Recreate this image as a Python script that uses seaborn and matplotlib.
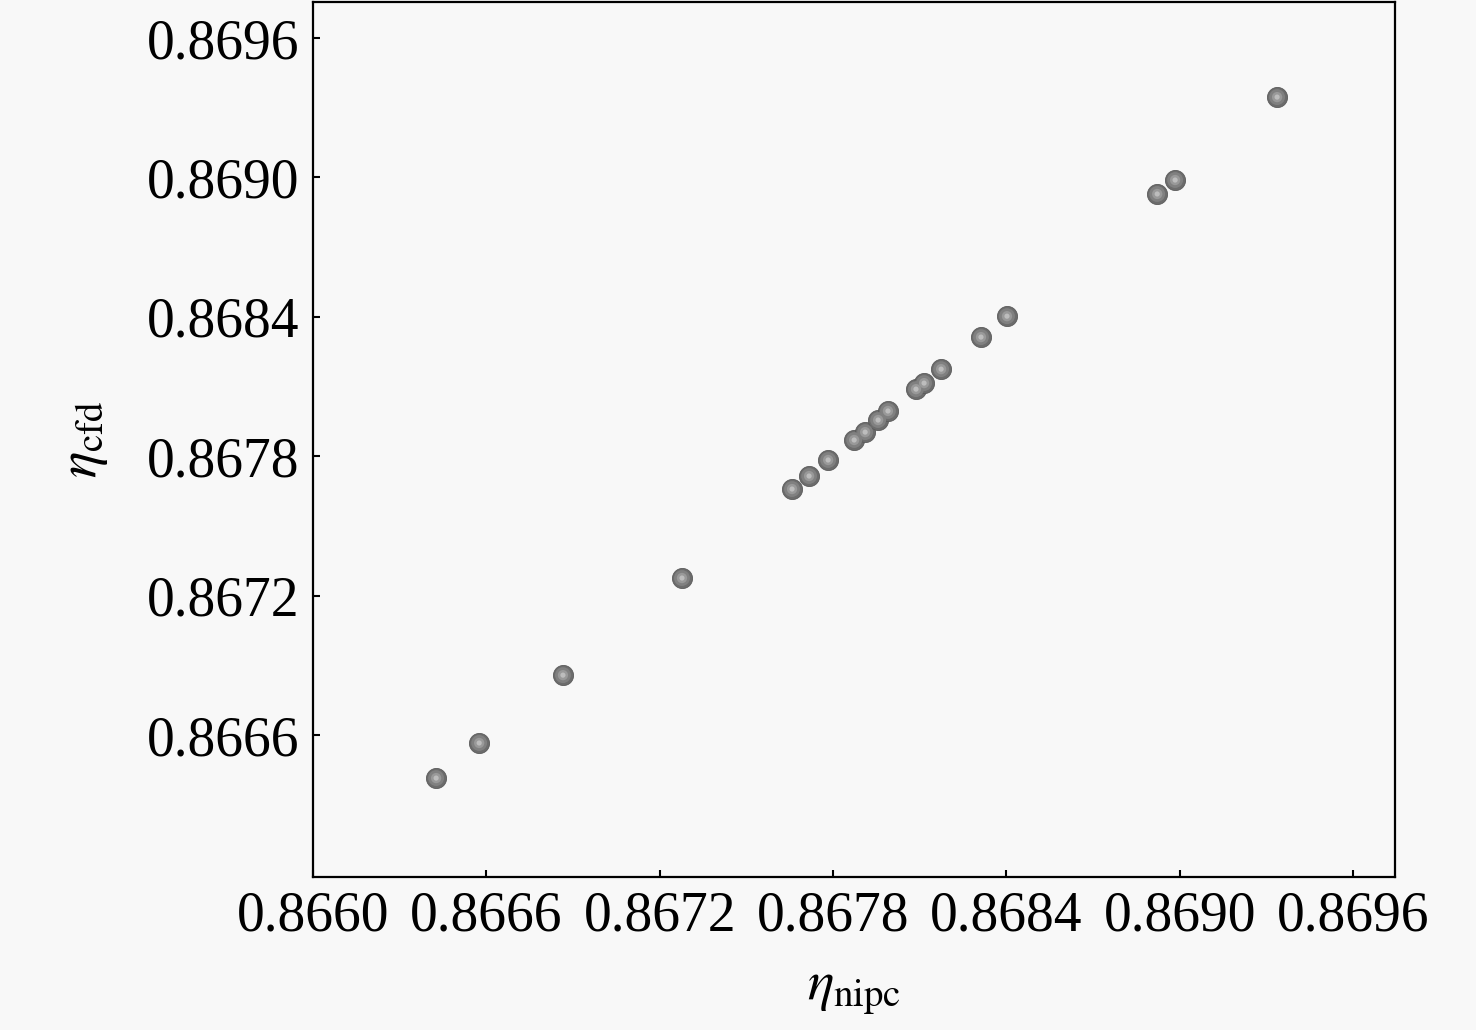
import numpy as np
import pandas as pd
import matplotlib
matplotlib.use("Agg")
import matplotlib.pyplot as plt
import seaborn as sns

# values
eta_nipc = [0.866426, 0.866575, 0.866865, 0.867277, 0.867658, 0.867717, 0.867783,
            0.867873, 0.867911, 0.867956, 0.867990, 0.868087, 0.868115, 0.868174,
            0.868312, 0.868402, 0.868922, 0.868984, 0.869337]
eta_cfd = [0.866415, 0.866566, 0.866858, 0.867276, 0.867659, 0.867715, 0.867784,
           0.867870, 0.867904, 0.867956, 0.867995, 0.868089, 0.868115, 0.868175,
           0.868313, 0.868403, 0.868929, 0.868989, 0.869346]
tick_vals = [0.8660, 0.8666, 0.8672, 0.8678, 0.8684, 0.8690, 0.8696]
ytick_vals = [0.8666, 0.8672, 0.8678, 0.8684, 0.8690, 0.8696]

df = pd.DataFrame({"nipc": eta_nipc, "cfd": eta_cfd})

sns.set_style("ticks")
plt.rcParams["font.family"] = ["Liberation Serif", "DejaVu Serif"]
plt.rcParams["mathtext.fontset"] = "stix"
plt.rcParams["text.color"] = "black"
plt.rcParams["axes.labelcolor"] = "black"
plt.rcParams["xtick.color"] = "black"
plt.rcParams["ytick.color"] = "black"

bg = "#f8f8f8"
fig = plt.figure(figsize=(14.76, 10.30), dpi=100, facecolor=bg)
ax = fig.add_axes([0.2121, 0.1485, 0.7330, 0.8495])
ax.set_facecolor(bg)

# layered circles to fake the shaded spheres
sns.scatterplot(data=df, x="nipc", y="cfd", ax=ax, s=210, color="#6c6c6c",
                edgecolor="#5a5a5a", linewidth=0.6, zorder=3, legend=False)
sns.scatterplot(data=df, x="nipc", y="cfd", ax=ax, s=130, color="#808080",
                edgecolor="none", zorder=4, legend=False)
sns.scatterplot(data=df, x="nipc", y="cfd", ax=ax, s=55, color="#999999",
                edgecolor="none", zorder=5, legend=False)
sns.scatterplot(data=df, x="nipc", y="cfd", ax=ax, s=14, color="#bdbdbd",
                edgecolor="none", zorder=6, legend=False)

ax.set_xlim(0.8660, 0.869745)
ax.set_ylim(0.865989, 0.869755)
ax.set_xticks(tick_vals)
ax.set_yticks(ytick_vals)
ax.set_xticklabels([f"{v:.4f}" for v in tick_vals])
ax.set_yticklabels([f"{v:.4f}" for v in ytick_vals])
ax.tick_params(direction="in", length=5, width=1.5, labelsize=40, pad=10)

for sp in ax.spines.values():
    sp.set_linewidth(1.6)
    sp.set_color("black")

ax.set_xlabel(r"$\eta_{\rm nipc}$", fontsize=40, labelpad=16)
ax.set_ylabel(r"$\eta_{\rm cfd}$", fontsize=40, labelpad=26)

fig.savefig("out.png", dpi=100, facecolor=bg)
